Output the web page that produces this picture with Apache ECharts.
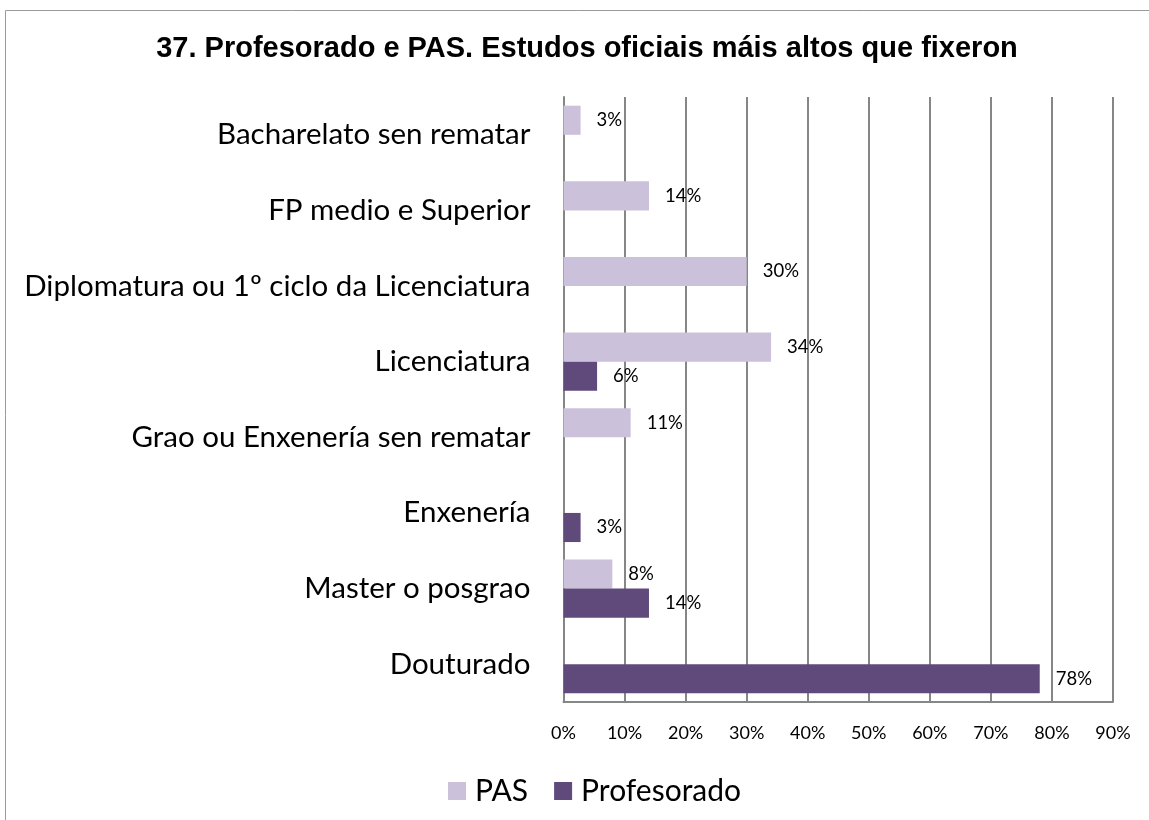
<!DOCTYPE html>
<html>
<head>
<meta charset="utf-8">
<script src="https://cdn.jsdelivr.net/npm/echarts@6/dist/echarts.min.js"></script>
<style>
html, body { margin: 0; padding: 0; background: #fff; }
#container { width: 1149px; height: 820px; }
</style>
</head>
<body>
<div id="container"></div>
<script>
var categories = [
    'Bacharelato sen rematar',
    'FP medio e Superior',
    'Diplomatura ou 1º ciclo da Licenciatura',
    'Licenciatura',
    'Grao ou Enxenería sen rematar',
    'Enxenería',
    'Master o posgrao',
    'Douturado'
];
var pasValues = [2.8, 14, 30, 34, 11, 0, 8, 0];
var profValues = [0, 0, 0, 5.5, 0, 2.8, 14, 78];
var xTicks = [0, 90, 10];

var dom = document.getElementById('container');
var myChart = echarts.init(dom);

// etiquetas: sen texto cando o valor é 0
var labelFmt = function (p) {
    return p.value ? Math.round(p.value) + '%' : '';
};

var option = {
    backgroundColor: '#fff',
    animation: false,
    title: {
        text: '37. Profesorado e PAS. Estudos oficiais máis altos que fixeron',
        left: 582,
        textAlign: 'center',
        top: 29,
        textStyle: {
            fontFamily: 'Liberation Sans',
            fontWeight: 'bold',
            fontSize: 29,
            color: '#000'
        }
    },
    graphic: [{
        type: 'rect',
        shape: { x: 5.5, y: 10.5, width: 1300, height: 1000 },
        style: { fill: 'none', stroke: '#9a9a9a', lineWidth: 1 },
        silent: true
    }],
    legend: {
        data: ['PAS', 'Profesorado'],
        left: 443,
        top: 771,
        itemWidth: 18,
        itemHeight: 18,
        itemGap: 26,
        icon: 'rect',
        textStyle: {
            fontFamily: 'Lato',
            fontSize: 30,
            color: '#000',
            padding: [0, 0, 0, 4]
        }
    },
    grid: {
        left: 563.5,
        right: 36,
        top: 97,
        bottom: 118,
        containLabel: false
    },
    xAxis: {
        type: 'value',
        min: xTicks[0],
        max: xTicks[1],
        interval: xTicks[2],
        axisLine: { show: true, lineStyle: { color: '#868686', width: 2 } },
        axisTick: { show: false },
        axisLabel: {
            formatter: '{value}%',
            margin: 22,
            fontFamily: 'Lato',
            fontSize: 18,
            color: '#000'
        },
        splitLine: { show: true, lineStyle: { color: '#868686', width: 2 } }
    },
    yAxis: {
        type: 'category',
        inverse: true,
        data: categories,
        axisLine: { show: true, lineStyle: { color: '#868686', width: 2 } },
        axisTick: { show: false },
        axisLabel: {
            margin: 33,
            fontFamily: 'Lato',
            fontSize: 29.5,
            color: '#000'
        }
    },
    series: [
        {
            name: 'PAS',
            type: 'bar',
            data: pasValues,
            barGap: '0%',
            barCategoryGap: '23%',
            itemStyle: { color: '#CCC1DA' },
            label: {
                show: true,
                position: 'right',
                distance: 16,
                formatter: labelFmt,
                fontFamily: 'Lato',
                fontSize: 18.5,
                color: '#000'
            }
        },
        {
            name: 'Profesorado',
            type: 'bar',
            data: profValues,
            barGap: '0%',
            barCategoryGap: '23%',
            itemStyle: { color: '#604A7B' },
            label: {
                show: true,
                position: 'right',
                distance: 16,
                formatter: labelFmt,
                fontFamily: 'Lato',
                fontSize: 18.5,
                color: '#000'
            }
        }
    ]
};

if (option && typeof option === "object") {
    myChart.setOption(option, true);
}
</script>
</body>
</html>
